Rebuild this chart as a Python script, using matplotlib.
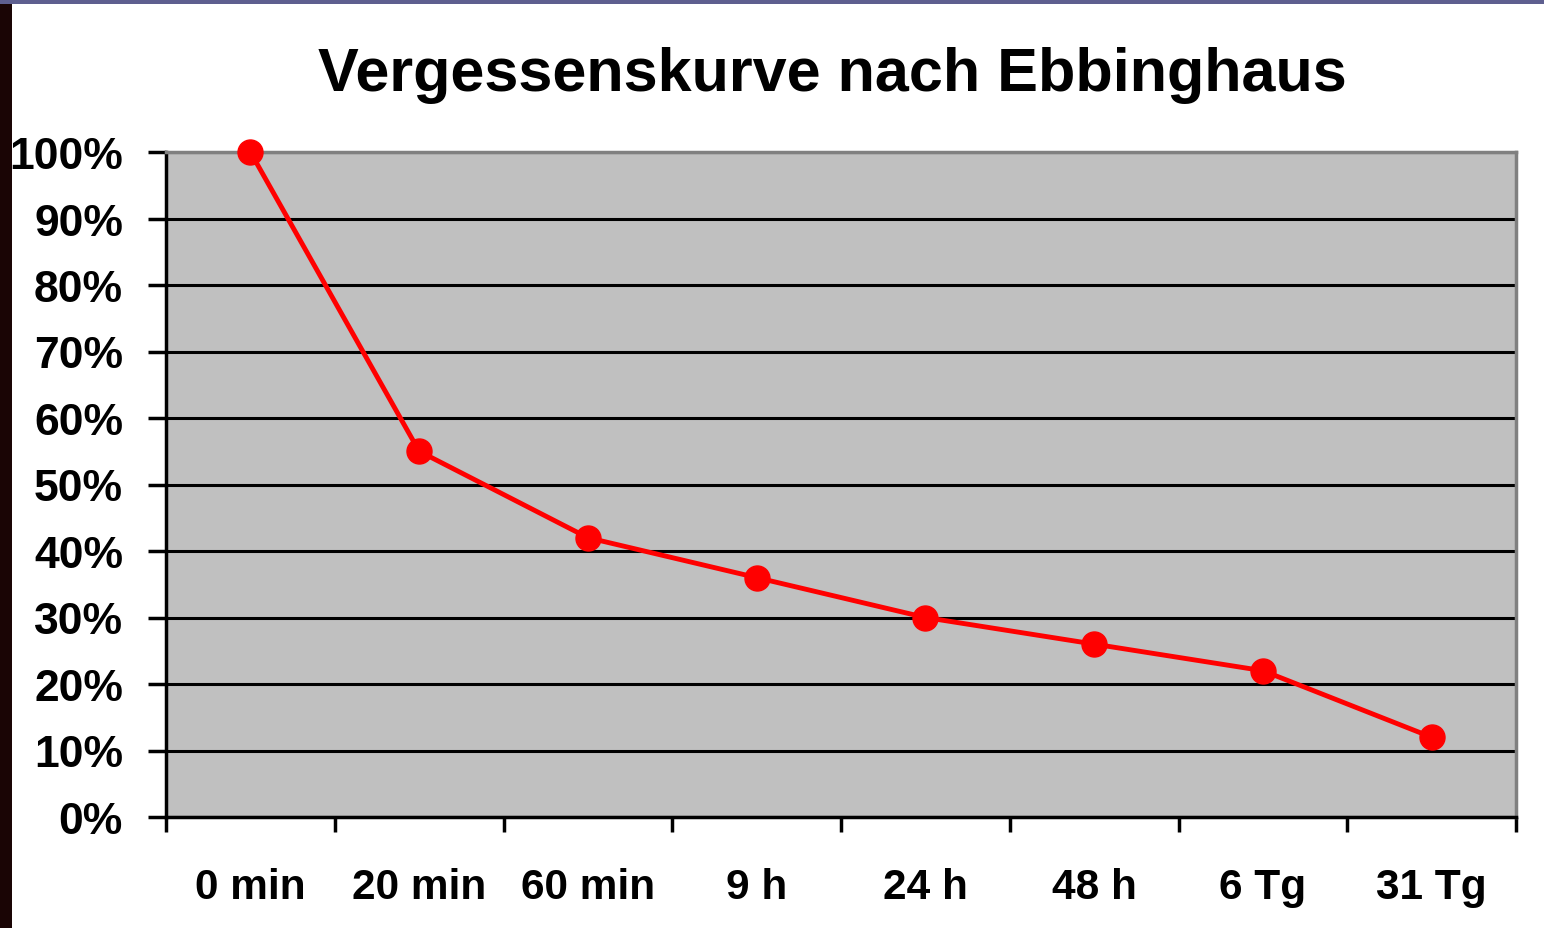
import matplotlib
matplotlib.use("Agg")
import matplotlib.pyplot as plt
from matplotlib.patches import Rectangle
from matplotlib.ticker import FixedLocator, FuncFormatter

categories = ["0 min", "20 min", "60 min", "9 h", "24 h", "48 h", "6 Tg", "31 Tg"]
retention = [100, 55, 42, 36, 30, 26, 22, 12]
y_ticks = [0, 10, 20, 30, 40, 50, 60, 70, 80, 90, 100]
title = "Vergessenskurve nach Ebbinghaus"

plt.rcParams['font.family'] = ['Liberation Sans', 'DejaVu Sans']

fig = plt.figure(figsize=(15.44, 9.29), dpi=100, facecolor="white")
# decorative background edges
fig.patches.append(Rectangle((0, 0), 12/1544, 1, transform=fig.transFigure,
                             facecolor="#1a0505", edgecolor="none", zorder=-10))
fig.patches.append(Rectangle((0, 1 - 5/929), 1, 5/929, transform=fig.transFigure,
                             facecolor="#5e5f8f", edgecolor="none", zorder=-10))

ax = fig.add_axes([166/1544, 1 - 818/929, (1516 - 166)/1544, (818 - 153)/929])
ax.set_facecolor("#c0c0c0")

x = list(range(len(categories)))
ax.plot(x, retention, color="#ff0000", lw=3.5, marker="o", markersize=18,
        markeredgecolor="#ff0000", clip_on=False, zorder=5)

ax.set_xlim(-0.5, len(categories) - 0.5)
ax.set_ylim(0, 100)

ax.yaxis.set_major_locator(FixedLocator(y_ticks))
ax.yaxis.set_major_formatter(FuncFormatter(lambda v, p: f"{int(v)}%"))
ax.grid(axis="y", color="black", lw=2.2, zorder=1)
ax.set_axisbelow(True)

ax.set_xticks(x)
ax.set_xticklabels(categories)
ax.set_xticks([i - 0.5 for i in range(len(categories) + 1)], minor=True)
ax.tick_params(axis="x", which="major", length=0, pad=36, labelsize=30.5)
ax.tick_params(axis="x", which="minor", length=11, width=2.5, direction="out", color="black")
ax.tick_params(axis="y", length=13, width=2.5, direction="out", pad=18, labelsize=32)
for lab in ax.get_xticklabels() + ax.get_yticklabels():
    lab.set_fontweight("bold")

for side in ["left", "bottom"]:
    ax.spines[side].set_color("black")
    ax.spines[side].set_linewidth(2.5)
for side in ["top", "right"]:
    ax.spines[side].set_color("#808080")
    ax.spines[side].set_linewidth(2.5)

fig.text(832/1544, 1 - 75/929, title, ha="center", va="center",
         fontsize=44, fontweight="bold", color="black")

fig.savefig("out.png", dpi=100, facecolor="white")
